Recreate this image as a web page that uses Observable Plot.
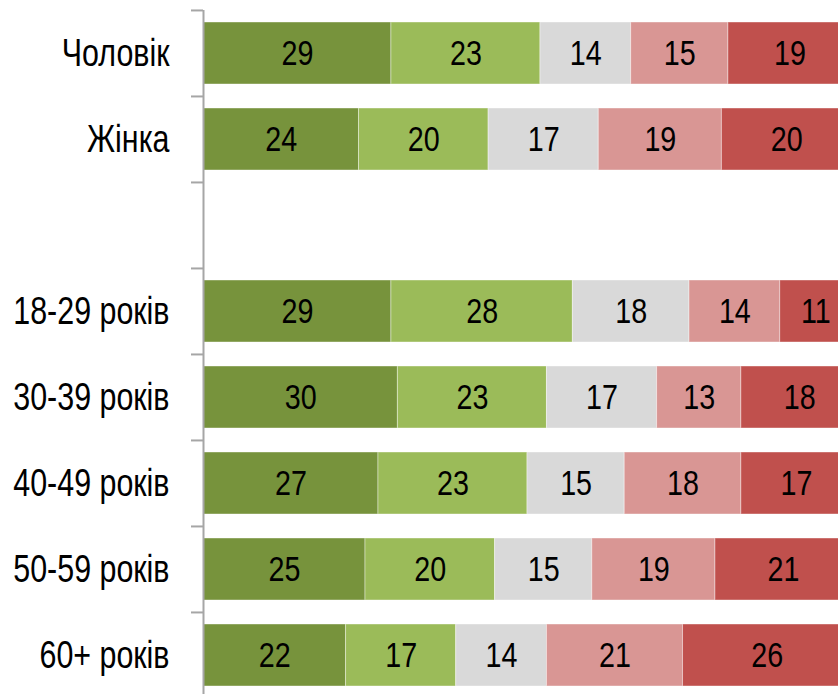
<!DOCTYPE html>
<html>
<head>
<meta charset="utf-8">
<script src="https://cdn.jsdelivr.net/npm/d3@7"></script>
<script src="https://cdn.jsdelivr.net/npm/@observablehq/plot@0.6"></script>
<style>
  html, body { margin: 0; padding: 0; background: #fff; overflow: hidden; }
  #chart { width: 838px; height: 694px; }
</style>
</head>
<body>
<div id="chart"></div>
<script>
const categories = ["Чоловік", "Жінка", " ", "18-29 років", "30-39 років", "40-49 років", "50-59 років", "60+ років"];
const seriesKeys = ["s1", "s2", "s3", "s4", "s5"];
const seriesColors = ["#77933C", "#9BBB59", "#D9D9D9", "#D99694", "#C0504D"];
const s1 = [29, 24, null, 29, 30, 27, 25, 22];
const s2 = [23, 20, null, 28, 23, 23, 20, 17];
const s3 = [14, 17, null, 18, 17, 15, 15, 14];
const s4 = [15, 19, null, 14, 13, 18, 19, 21];
const s5 = [19, 20, null, 11, 18, 17, 21, 26];

const seriesValues = [s1, s2, s3, s4, s5];
const data = [];
categories.forEach((cat, i) => {
  seriesKeys.forEach((k, j) => {
    const v = seriesValues[j][i];
    if (v != null) data.push({cat, series: k, value: v});
  });
});

const font = "'Liberation Sans', Arial, sans-serif";
const yRange = [-3, 710];
const step = (yRange[1] - yRange[0]) / (categories.length + 0.28);

const chart = Plot.plot({
  width: 838,
  height: 694,
  marginLeft: 203,
  marginRight: 0,
  marginTop: 10,
  marginBottom: 0,
  style: {fontFamily: font, fontSize: "35px", color: "#000", background: "#fff"},
  x: {domain: [0, 100], range: [203, 851], axis: null},
  y: {domain: categories, range: yRange, padding: 0.28, label: null},
  color: {domain: seriesKeys, range: seriesColors},
  marks: [
    Plot.barX(data, Plot.stackX({x: "value", y: "cat", fill: "series", z: "series", stroke: "#fff", strokeOpacity: 0.4, strokeWidth: 1})),
    Plot.text(data, Plot.stackX({x: "value", y: "cat", z: "series", text: "value", fill: "#000", fontSize: 35})),
    Plot.axisY({tickSize: 12, dy: -step / 2, tickFormat: () => "", stroke: "#A6A6A6", strokeWidth: 2, strokeOpacity: 1, label: null}),
    Plot.axisY({tickSize: 0, tickPadding: 34, fontSize: 38, fill: "#000", label: null}),
    Plot.ruleX([0], {x: () => 0, stroke: "#A6A6A6", strokeWidth: 2, y1: null, y2: null})
  ]
});

// Narrow the glyphs (Arial Narrow look) around each text's own anchor point
function narrow(selector, k) {
  chart.querySelectorAll(selector).forEach((t) => {
    const tr = t.getAttribute("transform") || "";
    t.setAttribute("transform", `${tr} scale(${k},1)`);
  });
}
narrow('g[aria-label="text"] text', 0.82);
narrow('g[aria-label="y-axis tick label"] text', 0.8);

document.getElementById("chart").appendChild(chart);
</script>
</body>
</html>
